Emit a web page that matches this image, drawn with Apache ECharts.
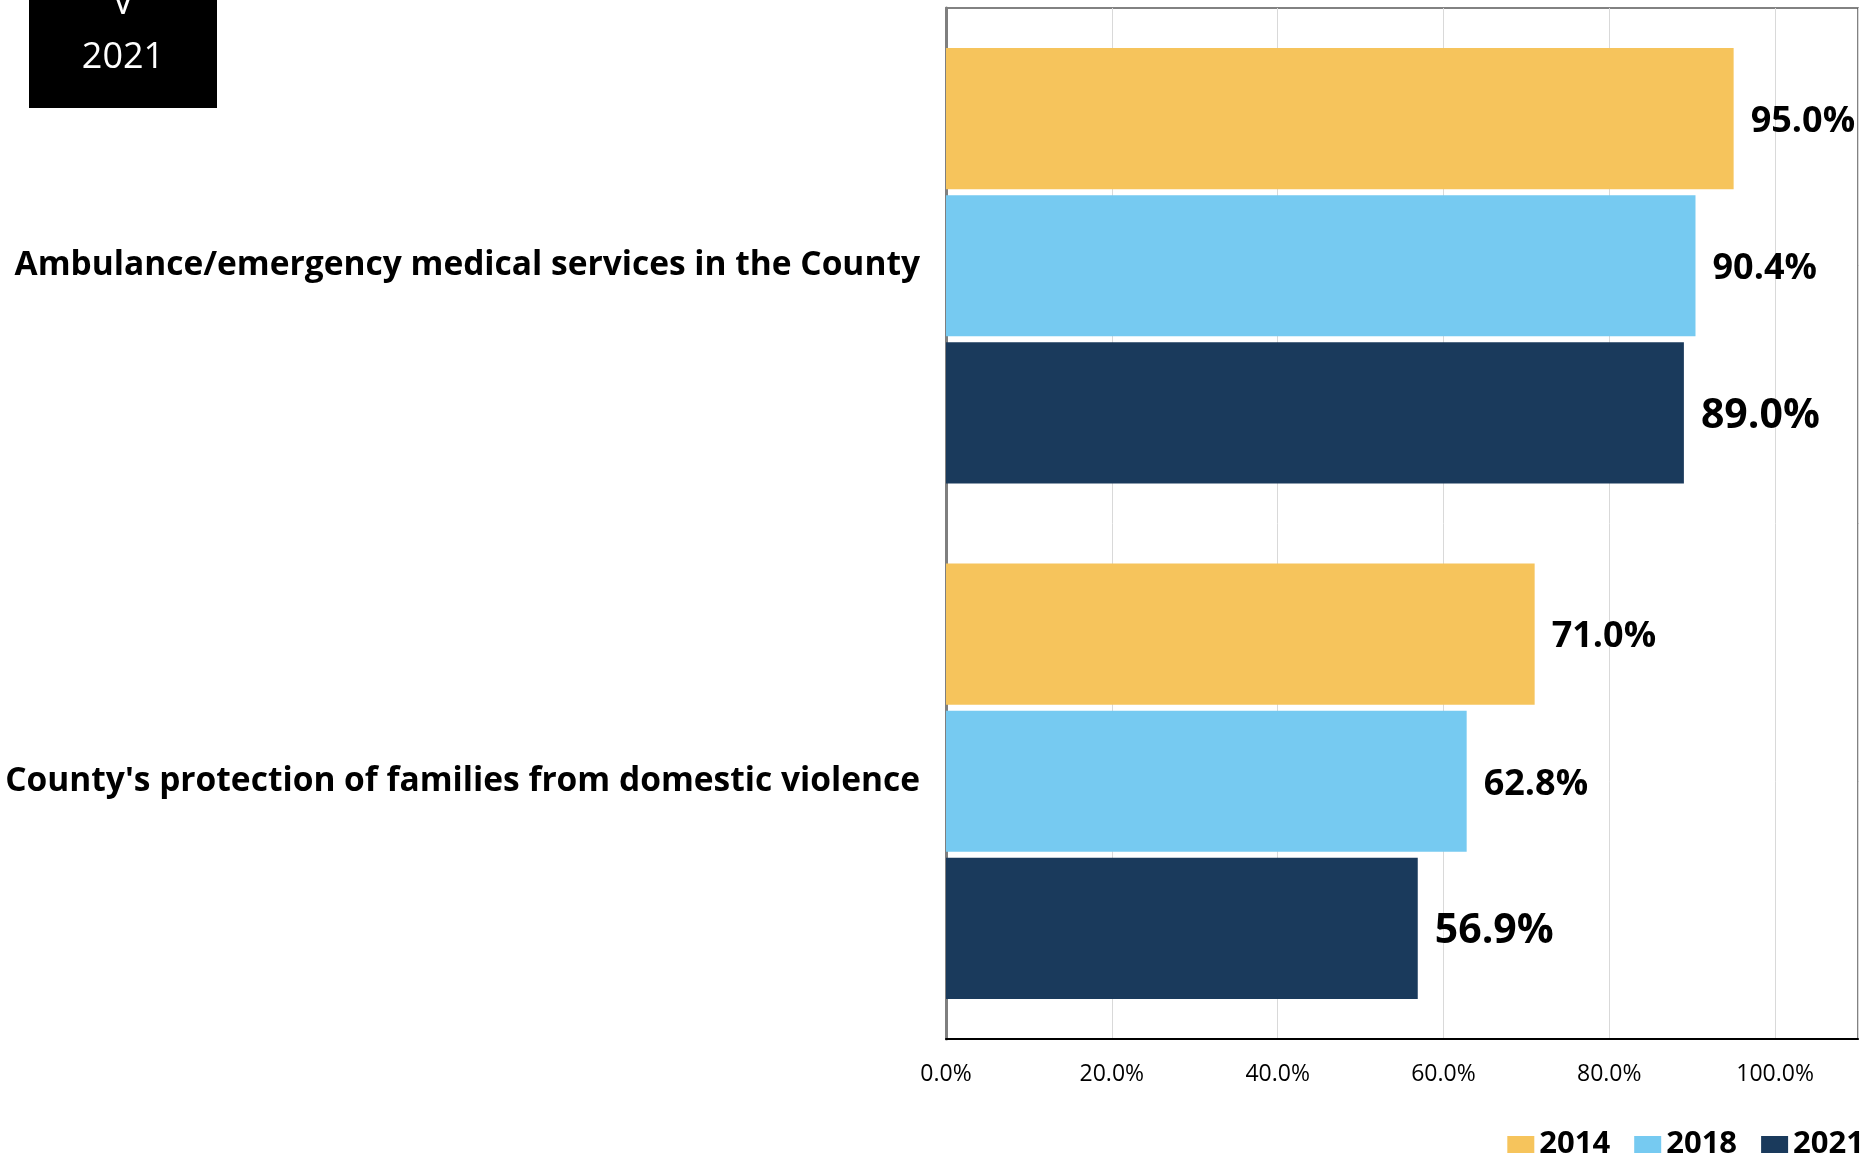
<!DOCTYPE html>
<html>
<head>
<meta charset="utf-8">
<title>Ambulance and domestic violence protection ratings</title>
<script src="https://cdn.jsdelivr.net/npm/echarts@6/dist/echarts.min.js"></script>
<style>
  html, body { margin: 0; padding: 0; background: #fff; }
  #chart { width: 1872px; height: 1156px; }
</style>
</head>
<body>
<div id="chart"></div>
<script>
// Survey items shown on the category axis (top to bottom)
const categories = [
  'Ambulance/emergency medical services in the County',
  "County's protection of families from domestic violence"
];
// Survey years, one bar series each
const years = ['2014', '2018', '2021'];
// Percent rating per item, by year
const values2014 = [95.0, 71.0];
const values2018 = [90.4, 62.8];
const values2021 = [89.0, 56.9];
// Value axis tick settings (percent)
const axisMin = 0;
const axisMax = 110;
const axisStep = 20;

const colors = ['#F6C45C', '#76CAF1', '#1A3A5C'];
const FONT = '"Open Sans", "Noto Sans", sans-serif';

const pct = v => v.toFixed(1) + '%';

function barSeries(name, data, color, labelSize) {
  return {
    name: name,
    type: 'bar',
    data: data,
    barGap: '4.2%',
    barCategoryGap: '15.5%',
    itemStyle: { color: color },
    label: {
      show: true,
      position: 'right',
      distance: 17,
      offset: [0, 3],
      formatter: p => pct(p.value),
      color: '#000',
      fontFamily: FONT,
      fontWeight: 'bold',
      fontSize: labelSize
    }
  };
}

const chart = echarts.init(document.getElementById('chart'));
chart.setOption({
  backgroundColor: '#fff',
  animation: false,
  grid: {
    left: 946,
    right: 14,
    top: 8,
    bottom: 117,
    show: true,
    borderColor: '#595959',
    borderWidth: 1.5,
    containLabel: false
  },
  legend: {
    data: years,
    right: 8,
    top: 1129,
    padding: 0,
    itemWidth: 27,
    itemHeight: 17,
    itemGap: 24,
    icon: 'rect',
    textStyle: { fontFamily: FONT, fontWeight: 'bold', fontSize: 31, color: '#000' }
  },
  xAxis: {
    type: 'value',
    min: axisMin,
    max: axisMax,
    interval: axisStep,
    axisLine: { show: true, lineStyle: { color: '#000', width: 2 } },
    axisTick: { show: false },
    splitLine: { show: true, lineStyle: { color: '#d9d9d9', width: 1 } },
    axisLabel: {
      showMaxLabel: false,
      margin: 24,
      formatter: v => pct(v),
      color: '#000',
      fontFamily: FONT,
      fontSize: 23
    }
  },
  yAxis: {
    type: 'category',
    data: categories,
    inverse: true,
    axisLine: { show: true, lineStyle: { color: '#7f7f7f', width: 3 } },
    axisTick: { show: false },
    axisLabel: {
      margin: 26,
      padding: [9, 0, 0, 0],
      color: '#000',
      fontFamily: FONT,
      fontWeight: 'bold',
      fontSize: 33.5
    }
  },
  series: [
    barSeries(years[0], values2014, colors[0], 36),
    barSeries(years[1], values2018, colors[1], 36),
    barSeries(years[2], values2021, colors[2], 41)
  ],
  graphic: [
    {
      type: 'rect',
      left: 29,
      top: -20,
      shape: { width: 188, height: 128 },
      style: { fill: '#000' },
      z: 10
    },
    {
      type: 'text',
      x: 123,
      y: 31,
      z: 11,
      style: {
        text: 'V\n2021',
        fill: '#fff',
        fontFamily: FONT,
        fontSize: 36,
        lineHeight: 54,
        align: 'center',
        verticalAlign: 'middle'
      }
    }
  ]
});
</script>
</body>
</html>
